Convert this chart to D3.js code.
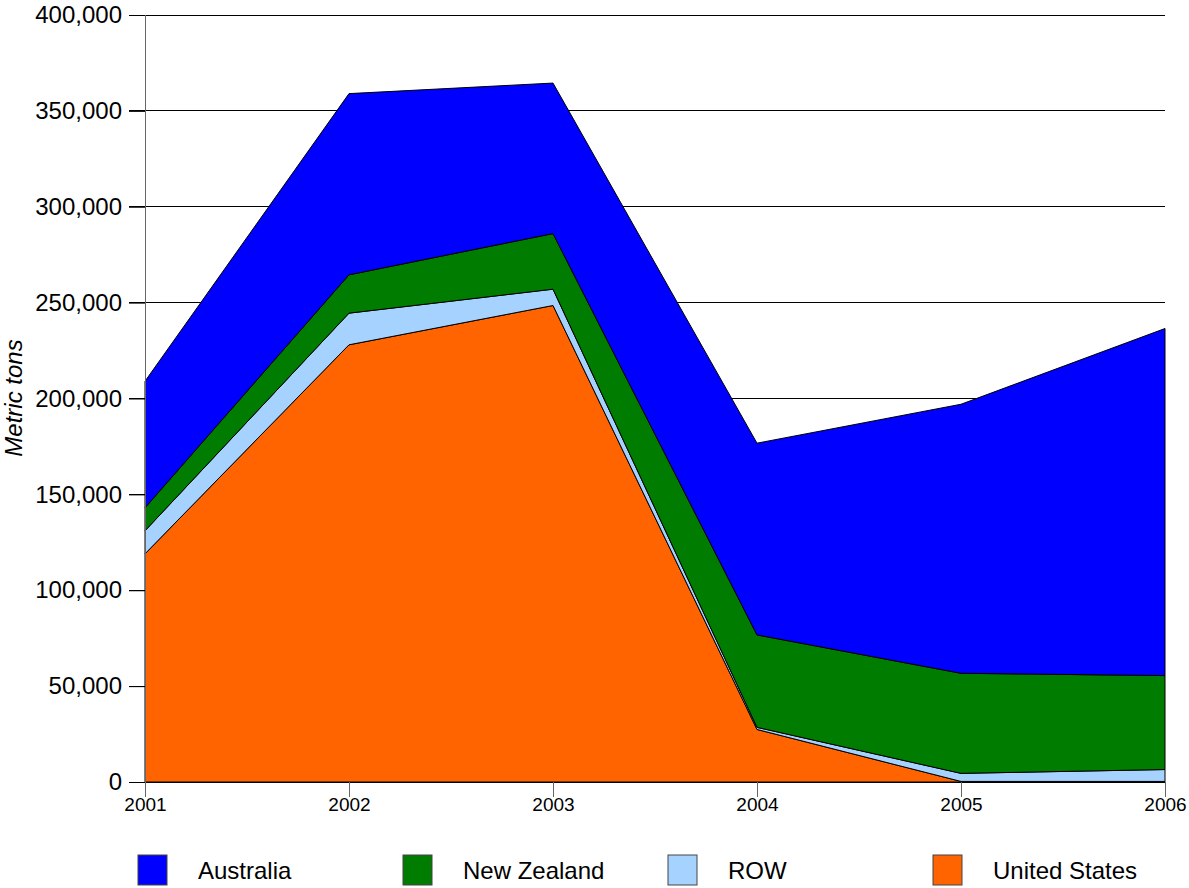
<!DOCTYPE html>
<html><head><meta charset="utf-8">
<script src="https://cdn.jsdelivr.net/npm/d3@7"></script>
<style>body{margin:0;background:#fff}svg{display:block}text{font-family:"Liberation Sans",Arial,sans-serif}</style>
</head><body><svg id="c" width="1189" height="888"></svg>
<script>
const years = [2001, 2002, 2003, 2004, 2005, 2006];
const unitedStates = [119000, 228000, 248500, 27400, 300, 300];
const row = [12000, 16500, 8500, 1100, 4200, 6200];
const newZealand = [12000, 20000, 29000, 48200, 52200, 49000];
const australia = [66000, 94500, 78500, 100000, 140300, 181000];
const seriesNames = ["United States", "ROW", "New Zealand", "Australia"];
const seriesColors = {"Australia": "#0000ff", "New Zealand": "#007c00", "ROW": "#a5d2ff", "United States": "#ff6400"};
const legendOrder = ["Australia", "New Zealand", "ROW", "United States"];
const yTicks = [0, 50000, 100000, 150000, 200000, 250000, 300000, 350000, 400000];

const table = years.map((y, i) => ({year: y, "United States": unitedStates[i], "ROW": row[i], "New Zealand": newZealand[i], "Australia": australia[i]}));
const stack = d3.stack().keys(seriesNames)(table);

const svg = d3.select("#c");
const x = d3.scaleLinear().domain([2001, 2006]).range([145, 1165]);
const y = d3.scaleLinear().domain([0, 400000]).range([782, 15]);

// gridlines
svg.append("g").selectAll("line").data(yTicks.filter(d => d > 0)).join("line")
  .attr("x1", 129).attr("x2", 1165).attr("y1", d => y(d)).attr("y2", d => y(d))
  .attr("stroke", "#000").attr("stroke-width", 1).attr("shape-rendering", "crispEdges");

const area = d3.area().x(d => x(d.data.year)).y0(d => y(d[0])).y1(d => y(d[1]));
svg.append("g").selectAll("path").data(stack).join("path")
  .attr("d", area).attr("fill", d => seriesColors[d.key])
  .attr("stroke", "#000").attr("stroke-width", 1).attr("stroke-linejoin", "round");

// y axis
const ya = svg.append("g").attr("transform", "translate(145,0)")
  .call(d3.axisLeft(y).tickValues(yTicks).tickSize(16).tickPadding(7).tickFormat(d3.format(",")));
ya.select(".domain").attr("stroke", "#666").attr("d", "M0.5,15V782");
ya.selectAll(".tick line").attr("stroke", "#000");
ya.selectAll("text").attr("font-size", 24).attr("fill", "#000").attr("font-family", "Liberation Sans, Arial, sans-serif");

// x axis
const xa = svg.append("g").attr("transform", "translate(0,782)")
  .call(d3.axisBottom(x).tickValues(years).tickSize(15).tickPadding(1).tickFormat(d3.format("d")));
xa.select(".domain").attr("stroke", "#000").attr("d", "M145,0.5H1165");
xa.selectAll(".tick line").attr("stroke", "#666");
xa.selectAll("text").attr("font-size", 19).attr("fill", "#000").attr("font-family", "Liberation Sans, Arial, sans-serif");

// y label
svg.append("text").attr("transform", "translate(22,398) rotate(-90)")
  .attr("text-anchor", "middle").attr("font-size", 24).attr("font-style", "italic").text("Metric tons");

// legend
const lg = svg.append("g").selectAll("g").data(legendOrder).join("g")
  .attr("transform", (d, i) => `translate(${138 + i * 265},855)`);
lg.append("rect").attr("width", 29).attr("height", 30).attr("fill", d => seriesColors[d])
  .attr("stroke", "#444").attr("stroke-width", 1);
lg.append("text").attr("x", 60).attr("y", 24).attr("font-size", 24).text(d => d);
</script></body></html>
